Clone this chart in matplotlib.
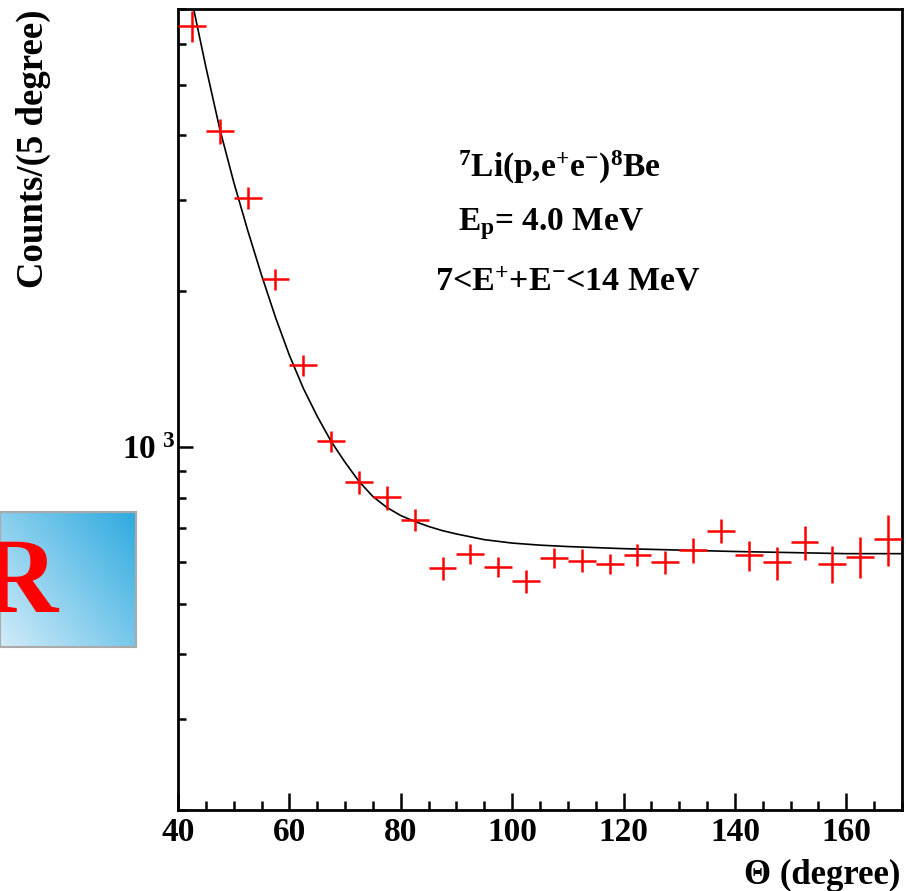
import matplotlib

matplotlib.use("Agg")
import matplotlib.pyplot as plt
import numpy as np
from matplotlib.colors import LinearSegmentedColormap
from matplotlib.ticker import LogLocator, MultipleLocator, NullFormatter, FixedFormatter, FixedLocator

# measured angular distribution (5 degree bins)
theta = [42.5, 47.5, 52.5, 57.5, 62.5, 67.5, 72.5, 77.5, 82.5, 87.5, 92.5, 97.5, 102.5,
         107.5, 112.5, 117.5, 122.5, 127.5, 132.5, 137.5, 142.5, 147.5, 152.5, 157.5,
         162.5, 167.5]
counts = [6500, 4070, 3025, 2110, 1440, 1027, 856, 801, 726, 585, 624, 589, 553,
          613, 605, 597, 621, 600, 633, 691, 619, 600, 656, 597, 616, 667]
count_err = [450, 225, 150, 95, 69, 49, 43, 42, 35, 29, 28, 27, 28,
             28, 31, 27, 30, 30, 35, 38, 41, 44, 48, 49, 56, 75]
BIN_WIDTH = 5.0

# simulated curve
curve_theta = [42.5, 45, 47.5, 50, 52.5, 55, 57.5, 60, 62.5, 65, 67.5, 70, 72.5, 75,
               77.5, 80, 82.5, 85, 87.5, 90, 95, 100, 105, 110, 120, 130, 140, 150,
               160, 170]
curve_counts = [7260, 5415, 4111, 3248, 2624, 2148, 1782, 1505, 1300, 1148, 1027, 936,
                860, 804, 766, 739, 720, 704, 691, 681, 664, 654, 648, 644, 638, 634,
                630, 627, 624, 624]

x_ticks = [40, 60, 80, 100, 120, 140, 160]
y_tick_labels = [r"$10^{\ 3}$"]

W, H = 906, 891


def main() -> int:
    plt.rcParams["font.family"] = ["Liberation Serif", "DejaVu Serif"]
    plt.rcParams["font.weight"] = "bold"
    plt.rcParams["mathtext.fontset"] = "custom"
    plt.rcParams["mathtext.rm"] = "Liberation Serif:bold"
    plt.rcParams["mathtext.it"] = "Liberation Serif:bold"
    plt.rcParams["mathtext.bf"] = "Liberation Serif:bold"

    fig = plt.figure(figsize=(W / 100, H / 100), dpi=100)
    ax = fig.add_axes([178 / W, 1 - 810 / H, (902 - 178) / W, (810 - 9) / H])

    ax.plot(curve_theta, curve_counts, color="black", lw=1.2, zorder=2)
    ax.errorbar(theta, counts, xerr=BIN_WIDTH / 2, yerr=count_err, fmt="none",
                ecolor="red", elinewidth=1.8, capsize=0, zorder=3)

    ax.set_yscale("log")
    ax.set_xlim(40, 170)
    ax.set_ylim(200, 7000)

    ax.xaxis.set_major_locator(FixedLocator(x_ticks))
    ax.xaxis.set_minor_locator(MultipleLocator(5))
    ax.yaxis.set_major_locator(FixedLocator([1000]))
    ax.yaxis.set_major_formatter(FixedFormatter(y_tick_labels))
    ax.yaxis.set_minor_locator(LogLocator(base=10, subs=np.arange(2, 10)))
    ax.yaxis.set_minor_formatter(NullFormatter())

    ax.tick_params(which="both", direction="in", top=False, right=False, width=1.8,
                   labelsize=24, color="black")
    ax.tick_params(axis="x", which="major", length=12, pad=5)
    ax.tick_params(axis="x", which="minor", length=6.5)
    ax.tick_params(axis="y", which="major", length=11, pad=2)
    ax.tick_params(axis="y", which="minor", length=6)
    for spine in ax.spines.values():
        spine.set_linewidth(2.0)

    fig.text(900 / W, 1 - 884 / H, "\u0398 (degree)", ha="right", va="baseline",
             fontsize=25, fontweight="bold")
    fig.text(16 / W, 1 - 9 / H, "Counts/(5 degree)", rotation=90, ha="left", va="top",
             fontsize=26.5, fontweight="bold")

    fig.text(458 / W, 1 - 177 / H, r"$^{7}$Li(p,e$^{+}$e$^{-}$)$^{8}$Be", ha="left",
             va="baseline", fontsize=24, fontweight="bold")
    fig.text(458 / W, 1 - 230 / H, r"E$_{\mathrm{p}}$= 4.0 MeV", ha="left",
             va="baseline", fontsize=24, fontweight="bold")
    fig.text(435 / W, 1 - 290 / H, r"7<E$^{+}$+E$^{-}$<14 MeV", ha="left",
             va="baseline", fontsize=24.5, fontweight="bold")

    # partially visible overlay box on the left
    box = fig.add_axes([0, 1 - 647 / H, 136 / W, (647 - 512) / H])
    cmap = LinearSegmentedColormap.from_list("bluebox", ["#d2ecf9", "#2eaadf"])
    gx, gy = np.meshgrid(np.linspace(0, 1, 200), np.linspace(0, 1, 200))
    box.imshow((gx * 0.55 + gy * 0.45), cmap=cmap, origin="lower", aspect="auto",
               extent=(0, 1, 0, 1))
    box.set_xticks([])
    box.set_yticks([])
    for spine in box.spines.values():
        spine.set_color("#aaaaaa")
        spine.set_linewidth(1.5)
    fig.text(57 / W, 1 - 612 / H, "R", ha="right", va="baseline", fontsize=78,
             fontweight="bold", color="red")

    fig.savefig("out.png", dpi=100)
    plt.close(fig)
    return 0


if __name__ == "__main__":
    raise SystemExit(main())
